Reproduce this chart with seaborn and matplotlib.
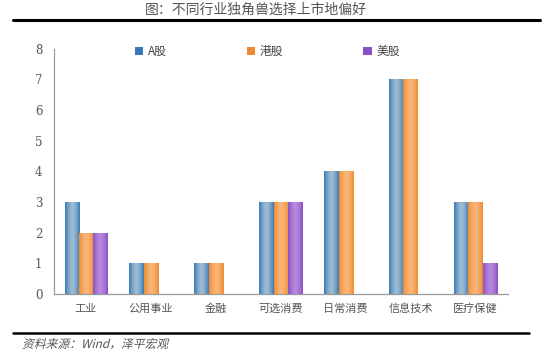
import numpy as np
import pandas as pd
import matplotlib
matplotlib.use("Agg")
import matplotlib.pyplot as plt
from matplotlib.patches import Patch, PathPatch
from matplotlib.colors import to_rgb
from matplotlib.textpath import TextPath
from matplotlib.font_manager import FontProperties
from matplotlib.transforms import Affine2D
import seaborn as sns

categories = ["工业", "公用事业", "金融", "可选消费", "日常消费", "信息技术", "医疗保健"]
series_names = ["A股", "港股", "美股"]
a_shares = [3, 1, 1, 3, 4, 7, 3]
hk_shares = [2, 1, 1, 3, 4, 7, 3]
us_shares = [2, 0, 0, 3, 0, 0, 1]
y_ticks = [0, 1, 2, 3, 4, 5, 6, 7, 8]
title_text = "图：不同行业独角兽选择上市地偏好"
source_text = "资料来源：Wind，泽平宏观"

edge_colors = ["#3a78b5", "#ee8a32", "#8c4fc2"]
center_colors = ["#9bbcd3", "#f9b577", "#b688e0"]

sns.set_theme(style="white")
plt.rcParams["font.family"] = ["Noto Sans CJK SC", "DejaVu Sans"]

df = pd.DataFrame({
    "行业": categories * 3,
    "市场": sum([[s] * len(categories) for s in series_names], []),
    "数量": a_shares + hk_shares + us_shares,
})

fig = plt.figure(figsize=(5.54, 3.54), dpi=100)
ax = fig.add_axes([53.5 / 554, 60 / 354, (508 - 53.5) / 554, (294 - 48.5) / 354])

palette = dict(zip(series_names, edge_colors))
sns.barplot(data=df, x="行业", y="数量", hue="市场", order=categories,
            hue_order=series_names, palette=palette, width=0.66, gap=0,
            saturation=1, legend=False, ax=ax, linewidth=0)

ax.set_ylim(0, 8)
ax.set_xlim(-0.5, len(categories) - 0.5)

# gradient fill on bars
n_cat = len(categories)
for i, p in enumerate(ax.patches):
    h = p.get_height()
    if h <= 0:
        continue
    s = i // n_cat
    e = np.array(to_rgb(edge_colors[s]))
    c = np.array(to_rgb(center_colors[s]))
    t = np.linspace(-1, 1, 64)
    w = 1 - np.abs(t) ** 1.6
    grad = e[None, :] * (1 - w[:, None]) + c[None, :] * w[:, None]
    x0 = p.get_x()
    im = ax.imshow(grad[None, :, :], extent=[x0, x0 + p.get_width(), 0, h],
                   aspect="auto", zorder=3, interpolation="bilinear")
    im.set_clip_path(p)

ax.set_ylim(0, 8)
ax.set_xlim(-0.5, len(categories) - 0.5)
ax.set_aspect("auto")

ax.set_yticks(y_ticks)
ax.set_yticklabels([str(v) for v in y_ticks], fontsize=8.5, color="#555555",
                   family="DejaVu Serif")
ax.set_xticks(np.arange(-0.5, n_cat, 1.0))
ax.set_xticklabels([])
ax.set_xticks(np.arange(n_cat), minor=True)
ax.set_xticklabels(categories, minor=True, fontsize=8, color="#555555")
ax.tick_params(axis="x", which="minor", length=0, pad=7)
ax.tick_params(axis="x", which="major", length=5, width=0.8, color="#888888", direction="out")
ax.tick_params(axis="y", length=5, width=0.8, color="#888888", direction="out", pad=3)
ax.set_xlabel("")
ax.set_ylabel("")
for sp in ["top", "right"]:
    ax.spines[sp].set_visible(False)
for sp in ["left", "bottom"]:
    ax.spines[sp].set_color("#999999")
    ax.spines[sp].set_linewidth(0.9)

handles = [Patch(facecolor=c, edgecolor="none") for c in edge_colors]
leg = ax.legend(handles, series_names, loc="upper left", bbox_to_anchor=(0.155, 1.058),
                ncol=3, frameon=False, fontsize=8.5, handlelength=0.7, handleheight=0.7,
                handletextpad=0.4, columnspacing=6.8)
for t in leg.get_texts():
    t.set_color("#444444")

# title and rules
fig.text(256 / 554, 1 - 10 / 354, title_text, ha="center", va="center", fontsize=10,
         color="#555555")
fig.add_artist(plt.Line2D([13 / 554, 540 / 554], [1 - 20 / 354] * 2, color="black", lw=2.2))
fig.add_artist(plt.Line2D([13 / 554, 529 / 554], [1 - 333 / 354] * 2, color="black", lw=1.8))

# italic (skewed) source note
tp = TextPath((0, 0), source_text, size=8.5,
              prop=FontProperties(family="Noto Sans CJK SC"))
x_in = 22 / 100
y_in = (354 - 348) / 100
tr = Affine2D().skew_deg(14, 0).scale(1 / 72).translate(x_in, y_in) + fig.dpi_scale_trans
fig.add_artist(PathPatch(tp, transform=tr, facecolor="#555555", edgecolor="none", lw=0))

fig.savefig("out.png", dpi=100)
